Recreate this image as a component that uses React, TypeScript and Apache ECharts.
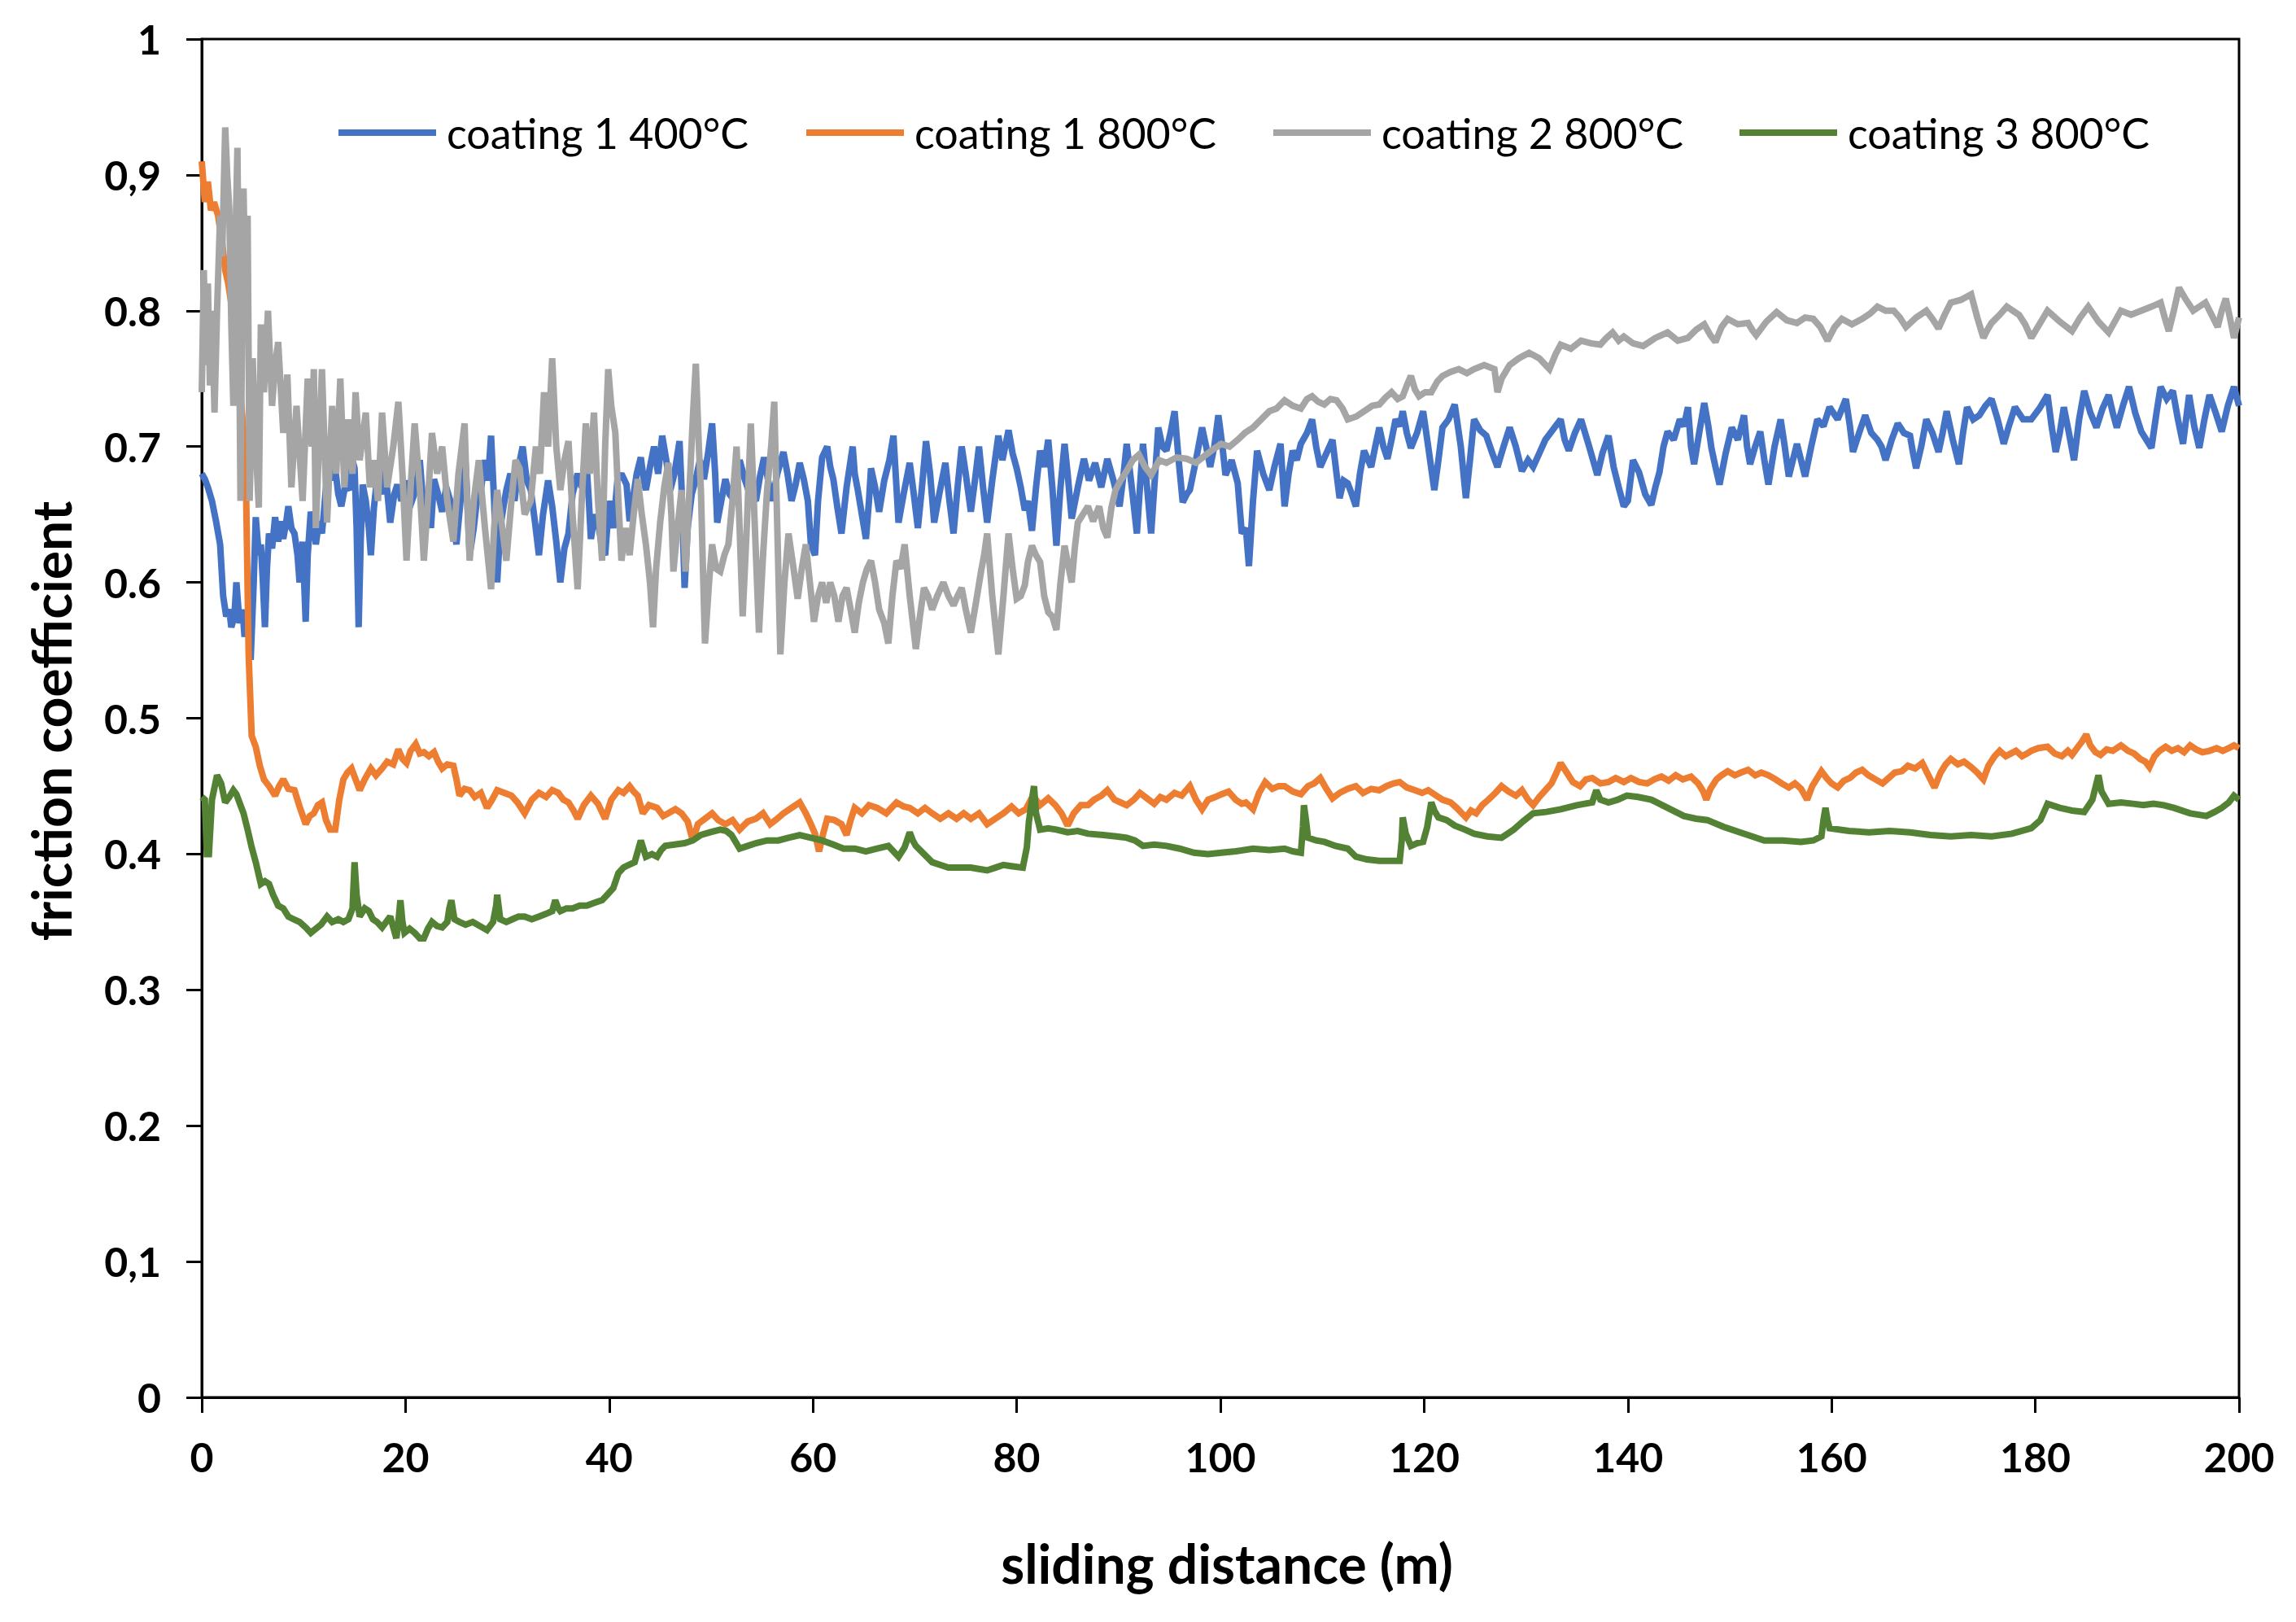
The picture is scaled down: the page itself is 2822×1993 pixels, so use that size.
import React, { useEffect, useRef } from "react";
import * as echarts from "echarts";

const seriesNames = ["coating 1 400°C", "coating 1 800°C", "coating 2 800°C", "coating 3 800°C"];
const seriesColors = ["#4472C4", "#ED7D31", "#A5A5A5", "#548235"];
const xTicks = [0, 20, 40, 60, 80, 100, 120, 140, 160, 180, 200];
const yTickLabels = ["0", "0,1", "0.2", "0.3", "0.4", "0.5", "0.6", "0.7", "0.8", "0,9", "1"];
const legendLeft = [416, 991, 1565, 2138];

// [sliding distance (m), friction coefficient]
const coating1_400 = [[0,0.68],[0.3,0.676],[0.6,0.67],[1,0.66],[1.4,0.645],[1.8,0.628],[2.1,0.59],[2.4,0.575],[2.7,0.58],[2.9,0.567],[3.2,0.575],[3.4,0.60],[3.7,0.57],[4,0.58],[4.2,0.56],[4.5,0.575],[4.8,0.543],[5.1,0.6],[5.3,0.648],[5.6,0.62],[5.8,0.628],[6,0.6],[6.2,0.567],[6.4,0.61],[6.6,0.636],[6.9,0.625],[7.2,0.648],[7.5,0.63],[7.8,0.645],[8,0.632],[8.3,0.645],[8.5,0.656],[8.8,0.64],[9.1,0.636],[9.4,0.62],[9.6,0.60],[9.9,0.63],[10.2,0.571],[10.4,0.62],[10.7,0.652],[11,0.64],[11.2,0.628],[11.5,0.645],[11.8,0.636],[12.2,0.67],[12.6,0.692],[12.9,0.675],[13.1,0.684],[13.4,0.665],[13.7,0.656],[14.1,0.672],[14.5,0.668],[14.8,0.69],[15,0.684],[15.2,0.64],[15.4,0.567],[15.6,0.63],[15.8,0.672],[16.1,0.66],[16.4,0.64],[16.6,0.62],[16.9,0.655],[17.2,0.676],[17.6,0.665],[18,0.684],[18.3,0.66],[18.5,0.644],[18.9,0.665],[19.2,0.672],[19.6,0.66],[20,0.675],[20.4,0.655],[21,0.668],[21.4,0.69],[21.8,0.652],[22.2,0.66],[22.5,0.64],[22.8,0.676],[23.2,0.665],[23.6,0.652],[24,0.67],[24.4,0.66],[24.7,0.645],[25,0.628],[25.4,0.66],[25.8,0.70],[26,0.672],[26.3,0.62],[26.7,0.64],[27,0.66],[27.4,0.668],[27.8,0.69],[28.1,0.675],[28.4,0.708],[28.7,0.66],[29,0.60],[29.3,0.64],[29.6,0.655],[29.9,0.668],[30.3,0.68],[30.7,0.66],[31.1,0.685],[31.5,0.70],[31.9,0.675],[32.3,0.668],[32.7,0.645],[33.1,0.62],[33.5,0.65],[34,0.675],[34.4,0.656],[34.8,0.63],[35.2,0.60],[35.6,0.625],[36,0.636],[36.4,0.665],[36.9,0.68],[37.3,0.67],[37.7,0.696],[38,0.66],[38.2,0.632],[38.6,0.65],[39,0.64],[39.3,0.625],[39.6,0.62],[40,0.66],[40.4,0.64],[40.8,0.675],[41.2,0.68],[41.7,0.672],[42,0.645],[42.3,0.66],[42.7,0.68],[43.1,0.692],[43.4,0.675],[43.6,0.668],[44,0.685],[44.4,0.70],[44.8,0.68],[45.2,0.708],[45.6,0.69],[46,0.668],[46.4,0.68],[46.9,0.704],[47.1,0.67],[47.4,0.596],[47.7,0.64],[48.1,0.665],[48.5,0.676],[48.9,0.69],[49.3,0.676],[49.7,0.695],[50.1,0.717],[50.4,0.68],[50.6,0.644],[51,0.66],[51.4,0.676],[51.8,0.665],[52.3,0.66],[52.8,0.69],[53.3,0.676],[53.8,0.665],[54.4,0.66],[54.8,0.678],[55.2,0.692],[55.6,0.675],[56,0.66],[56.5,0.68],[57.1,0.696],[57.5,0.68],[57.9,0.66],[58.3,0.672],[58.7,0.688],[59.1,0.676],[59.5,0.66],[59.8,0.628],[60.2,0.62],[60.5,0.66],[60.9,0.692],[61.4,0.70],[61.7,0.685],[62,0.676],[62.4,0.655],[62.8,0.636],[63.3,0.67],[63.9,0.70],[64.1,0.68],[64.4,0.668],[64.8,0.65],[65.2,0.632],[65.5,0.66],[65.7,0.684],[66.1,0.67],[66.5,0.652],[67,0.675],[67.5,0.69],[67.9,0.708],[68.2,0.67],[68.4,0.644],[68.9,0.665],[69.5,0.688],[69.9,0.665],[70.3,0.64],[70.7,0.67],[71.1,0.704],[71.5,0.68],[71.9,0.644],[72.4,0.665],[73,0.688],[73.4,0.66],[73.8,0.636],[74.2,0.67],[74.6,0.70],[75,0.68],[75.5,0.652],[75.9,0.675],[76.3,0.70],[76.7,0.67],[77.1,0.644],[77.6,0.675],[78.2,0.708],[78.6,0.69],[79.2,0.712],[79.6,0.695],[80,0.684],[80.4,0.67],[80.8,0.653],[81.1,0.66],[81.5,0.638],[81.9,0.67],[82.3,0.697],[82.7,0.685],[83.1,0.705],[83.5,0.67],[83.9,0.627],[84.3,0.67],[84.7,0.702],[85,0.68],[85.4,0.647],[86,0.67],[86.6,0.691],[87.1,0.675],[87.7,0.688],[88.3,0.67],[88.9,0.691],[89.5,0.675],[90.1,0.656],[90.5,0.68],[90.8,0.702],[91.3,0.67],[91.8,0.636],[92.1,0.67],[92.4,0.702],[92.8,0.67],[93.2,0.636],[93.6,0.68],[93.9,0.714],[94.3,0.70],[94.7,0.697],[95.1,0.71],[95.5,0.726],[95.9,0.69],[96.3,0.659],[96.7,0.665],[97,0.668],[97.6,0.69],[98.2,0.714],[98.6,0.70],[99,0.685],[99.4,0.70],[99.8,0.723],[100.2,0.70],[100.5,0.679],[101.1,0.69],[101.7,0.673],[102.1,0.636],[102.5,0.64],[102.8,0.612],[103.2,0.66],[103.6,0.697],[104.2,0.68],[104.8,0.668],[105.3,0.685],[105.9,0.702],[106.3,0.656],[106.7,0.68],[107.1,0.697],[107.5,0.69],[107.9,0.702],[108.5,0.71],[109,0.72],[109.4,0.70],[109.8,0.685],[110.4,0.695],[111,0.705],[111.4,0.68],[111.7,0.662],[112.1,0.675],[112.5,0.673],[112.9,0.665],[113.3,0.656],[113.7,0.68],[114.1,0.697],[114.5,0.69],[114.8,0.685],[115.2,0.70],[115.6,0.714],[116,0.70],[116.4,0.691],[116.8,0.705],[117.2,0.72],[117.6,0.715],[117.9,0.726],[118.3,0.71],[118.7,0.699],[119.3,0.71],[119.9,0.726],[120.4,0.70],[121,0.668],[121.4,0.69],[121.8,0.714],[122.4,0.72],[123,0.731],[123.6,0.70],[124.1,0.662],[124.5,0.69],[124.9,0.72],[125.5,0.712],[126.1,0.708],[126.7,0.695],[127.2,0.685],[127.8,0.70],[128.4,0.714],[129,0.70],[129.6,0.682],[130.2,0.69],[130.7,0.685],[131.3,0.695],[131.9,0.705],[132.6,0.712],[133.4,0.72],[133.8,0.705],[134.2,0.697],[134.8,0.71],[135.4,0.72],[136.2,0.70],[137,0.679],[137.5,0.695],[138.1,0.708],[138.6,0.685],[139.1,0.67],[139.6,0.656],[140,0.66],[140.5,0.69],[141.1,0.681],[141.7,0.665],[142.3,0.657],[142.7,0.67],[143.1,0.681],[143.5,0.70],[143.9,0.711],[144.5,0.705],[145.1,0.72],[145.5,0.715],[145.9,0.729],[146.2,0.70],[146.5,0.687],[147,0.71],[147.5,0.732],[147.9,0.715],[148.2,0.699],[148.6,0.685],[149,0.672],[149.6,0.695],[150.2,0.714],[150.8,0.705],[151.4,0.723],[151.7,0.70],[152,0.687],[152.5,0.70],[153,0.711],[153.4,0.69],[153.8,0.672],[154.4,0.70],[155,0.72],[155.4,0.70],[155.8,0.678],[156.2,0.69],[156.6,0.702],[157,0.69],[157.4,0.678],[158,0.70],[158.6,0.72],[159.2,0.715],[159.8,0.729],[160.6,0.72],[161.4,0.735],[161.8,0.715],[162.1,0.696],[162.7,0.71],[163.3,0.723],[163.9,0.71],[164.5,0.705],[164.9,0.70],[165.3,0.69],[165.9,0.705],[166.5,0.717],[167.1,0.71],[167.7,0.708],[168,0.695],[168.3,0.684],[168.8,0.70],[169.3,0.72],[169.9,0.71],[170.5,0.696],[170.9,0.71],[171.3,0.726],[171.9,0.705],[172.5,0.687],[172.9,0.71],[173.3,0.729],[173.9,0.72],[174.5,0.723],[175.1,0.73],[175.7,0.735],[176.3,0.72],[176.9,0.702],[177.4,0.715],[178,0.729],[178.8,0.72],[179.6,0.72],[180.4,0.728],[181.2,0.738],[181.6,0.715],[182,0.696],[182.4,0.71],[182.8,0.729],[183.3,0.71],[183.8,0.69],[184.3,0.72],[184.8,0.741],[185.4,0.725],[186,0.714],[186.6,0.728],[187.2,0.738],[187.6,0.725],[188,0.714],[188.6,0.73],[189.2,0.744],[189.8,0.725],[190.4,0.711],[190.9,0.705],[191.4,0.699],[191.9,0.725],[192.3,0.744],[192.9,0.735],[193.5,0.741],[194,0.72],[194.5,0.702],[194.8,0.72],[195.1,0.738],[195.6,0.715],[196.1,0.699],[196.6,0.72],[197.1,0.738],[197.7,0.725],[198.3,0.711],[198.9,0.73],[199.5,0.744],[200,0.73]];

const coating1_800 = [[0,0.91],[0.3,0.88],[0.6,0.895],[0.9,0.874],[1.2,0.88],[1.6,0.87],[2,0.85],[2.3,0.83],[2.6,0.82],[3,0.80],[3.4,0.78],[3.8,0.74],[4.1,0.71],[4.35,0.668],[4.6,0.547],[4.9,0.487],[5.3,0.479],[5.7,0.465],[6.1,0.455],[6.6,0.45],[7.2,0.443],[7.6,0.45],[8,0.455],[8.5,0.448],[9.1,0.447],[9.6,0.435],[10.2,0.422],[10.6,0.428],[11,0.43],[11.4,0.436],[11.8,0.438],[12.2,0.425],[12.6,0.418],[13.1,0.418],[13.5,0.44],[13.9,0.455],[14.3,0.46],[14.7,0.463],[15.1,0.455],[15.5,0.447],[16,0.455],[16.6,0.463],[17.1,0.458],[17.7,0.463],[18.2,0.468],[18.8,0.466],[19.3,0.477],[19.7,0.47],[20.1,0.467],[20.5,0.476],[21,0.481],[21.4,0.474],[21.8,0.475],[22.3,0.472],[22.8,0.475],[23.2,0.468],[23.6,0.463],[24.1,0.466],[24.7,0.465],[25,0.455],[25.3,0.443],[25.8,0.448],[26.3,0.447],[26.8,0.442],[27.4,0.445],[28,0.434],[28.5,0.44],[29,0.447],[29.7,0.445],[30.4,0.443],[31,0.438],[31.7,0.43],[32.4,0.44],[33.1,0.445],[33.8,0.442],[34.4,0.447],[35,0.445],[35.5,0.44],[36,0.438],[36.5,0.432],[36.9,0.426],[37.5,0.436],[38.2,0.443],[38.9,0.437],[39.6,0.426],[40.2,0.44],[40.9,0.447],[41.4,0.445],[42,0.45],[42.4,0.446],[42.8,0.443],[43.3,0.43],[43.9,0.436],[44.7,0.434],[45.3,0.428],[45.8,0.43],[46.5,0.433],[47.1,0.43],[47.7,0.424],[48.2,0.41],[48.7,0.422],[49.4,0.426],[50.1,0.43],[50.7,0.425],[51.4,0.422],[52.1,0.425],[52.8,0.418],[53.6,0.424],[54.4,0.426],[55.1,0.43],[55.8,0.422],[56.5,0.426],[57.1,0.43],[57.9,0.434],[58.7,0.438],[59.3,0.43],[59.8,0.422],[60.2,0.415],[60.6,0.402],[61,0.415],[61.4,0.426],[62.1,0.425],[62.8,0.422],[63.3,0.414],[63.7,0.425],[64.1,0.434],[64.8,0.43],[65.5,0.436],[66.3,0.434],[67.2,0.43],[68.2,0.438],[68.9,0.435],[69.5,0.434],[70.3,0.43],[71,0.434],[71.7,0.43],[72.5,0.426],[73.3,0.43],[74.1,0.426],[74.8,0.43],[75.5,0.426],[76.3,0.43],[77.1,0.422],[77.9,0.426],[78.7,0.43],[79.5,0.435],[80.2,0.43],[80.9,0.433],[81.6,0.443],[82.3,0.436],[83.1,0.441],[83.8,0.436],[84.4,0.43],[85,0.421],[85.6,0.43],[86.3,0.436],[87,0.436],[87.6,0.44],[88.3,0.443],[88.9,0.447],[89.6,0.44],[90.2,0.438],[90.8,0.436],[91.5,0.44],[92.1,0.445],[92.8,0.441],[93.5,0.437],[94.1,0.442],[94.7,0.44],[95.5,0.445],[96.2,0.443],[97,0.45],[97.6,0.44],[98.2,0.433],[98.8,0.44],[99.5,0.442],[100.1,0.444],[100.8,0.446],[101.5,0.44],[102.1,0.437],[102.5,0.438],[103.2,0.433],[103.8,0.445],[104.4,0.453],[105.1,0.448],[105.7,0.45],[106.3,0.45],[107.1,0.446],[107.9,0.444],[108.6,0.45],[109.2,0.452],[109.8,0.456],[110.4,0.448],[111,0.441],[111.7,0.445],[112.5,0.448],[113.3,0.45],[114,0.445],[114.8,0.448],[115.6,0.447],[116.3,0.45],[117,0.452],[117.6,0.453],[118.3,0.449],[119.1,0.447],[119.8,0.445],[120.4,0.447],[121,0.444],[121.8,0.44],[122.6,0.438],[123.2,0.434],[123.7,0.43],[124.1,0.427],[124.6,0.432],[125.1,0.43],[125.7,0.436],[126.3,0.44],[127,0.445],[127.6,0.45],[128.3,0.446],[129,0.443],[129.6,0.447],[130.2,0.44],[130.7,0.436],[131.3,0.442],[131.9,0.447],[132.5,0.452],[133,0.46],[133.4,0.467],[134,0.46],[134.6,0.453],[135.3,0.45],[135.9,0.455],[136.5,0.456],[137.3,0.452],[138.1,0.453],[138.8,0.456],[139.6,0.453],[140.3,0.456],[141.1,0.453],[141.9,0.452],[142.6,0.455],[143.3,0.457],[144,0.454],[144.7,0.458],[145.4,0.455],[146.2,0.457],[146.9,0.452],[147.4,0.446],[147.7,0.44],[148.1,0.448],[148.7,0.455],[149.2,0.458],[149.8,0.461],[150.5,0.458],[151.1,0.46],[151.8,0.462],[152.5,0.458],[153.1,0.46],[153.8,0.458],[154.5,0.455],[155.1,0.452],[155.8,0.449],[156.4,0.452],[157,0.448],[157.6,0.44],[158.1,0.45],[158.6,0.456],[159,0.461],[159.5,0.456],[160,0.452],[160.6,0.449],[161.2,0.454],[161.8,0.456],[162.4,0.46],[163,0.462],[163.6,0.458],[164.3,0.455],[165,0.452],[165.6,0.456],[166.2,0.46],[166.9,0.461],[167.5,0.465],[168.2,0.463],[168.9,0.467],[169.5,0.458],[170.1,0.449],[170.7,0.46],[171.2,0.466],[171.7,0.47],[172.4,0.466],[173,0.468],[173.7,0.464],[174.3,0.46],[174.9,0.455],[175.4,0.465],[176,0.472],[176.5,0.476],[177.1,0.472],[177.6,0.474],[178.1,0.476],[178.7,0.472],[179.2,0.474],[179.6,0.476],[180.3,0.478],[181.2,0.479],[181.9,0.474],[182.6,0.472],[183.2,0.476],[183.6,0.473],[184.1,0.478],[184.6,0.483],[185,0.488],[185.4,0.48],[185.9,0.475],[186.4,0.473],[187,0.477],[187.6,0.476],[188.4,0.48],[189.1,0.476],[189.7,0.474],[190.3,0.47],[190.8,0.468],[191.2,0.464],[191.7,0.472],[192.2,0.476],[192.8,0.479],[193.4,0.476],[194,0.478],[194.6,0.475],[195.2,0.48],[195.8,0.477],[196.4,0.475],[197.1,0.476],[197.8,0.478],[198.4,0.476],[199,0.478],[199.5,0.48],[200,0.478]];

const coating2_800 = [[0,0.74],[0.2,0.83],[0.4,0.76],[0.6,0.82],[0.8,0.745],[1,0.80],[1.25,0.725],[1.5,0.80],[1.8,0.87],[2,0.84],[2.3,0.935],[2.5,0.90],[2.7,0.875],[2.9,0.79],[3.1,0.73],[3.3,0.85],[3.5,0.92],[3.65,0.80],[3.8,0.66],[4,0.82],[4.1,0.89],[4.3,0.80],[4.5,0.87],[4.7,0.66],[5,0.765],[5.3,0.70],[5.6,0.655],[5.8,0.79],[6.1,0.74],[6.5,0.80],[6.9,0.73],[7.2,0.76],[7.5,0.777],[8,0.71],[8.4,0.753],[8.8,0.67],[9.3,0.73],[9.9,0.66],[10.4,0.75],[10.8,0.70],[11,0.757],[11.2,0.64],[11.5,0.70],[11.8,0.757],[12.3,0.644],[12.8,0.73],[13.2,0.68],[13.6,0.75],[14,0.67],[14.4,0.72],[14.8,0.68],[15.1,0.74],[15.5,0.69],[16.1,0.725],[16.5,0.67],[16.9,0.69],[17.3,0.66],[17.7,0.725],[18.2,0.67],[18.8,0.70],[19.3,0.733],[19.7,0.68],[20.1,0.616],[20.5,0.67],[20.9,0.717],[21.4,0.67],[21.8,0.616],[22.2,0.66],[22.6,0.71],[23.1,0.68],[23.6,0.70],[24.1,0.66],[24.7,0.63],[25.2,0.68],[25.8,0.717],[26,0.67],[26.3,0.616],[26.7,0.66],[27.2,0.69],[27.8,0.64],[28.4,0.595],[28.7,0.64],[29,0.668],[29.5,0.64],[29.9,0.616],[30.4,0.66],[30.8,0.69],[31.2,0.684],[31.7,0.65],[32.3,0.66],[32.8,0.70],[33.2,0.68],[33.6,0.74],[34,0.70],[34.4,0.765],[34.8,0.70],[35.2,0.668],[35.6,0.69],[36,0.704],[36.4,0.65],[36.9,0.595],[37.3,0.66],[37.7,0.717],[38.1,0.68],[38.5,0.725],[38.9,0.66],[39.3,0.616],[39.6,0.70],[39.9,0.757],[40.2,0.73],[40.6,0.71],[40.9,0.66],[41.2,0.616],[41.6,0.64],[42,0.62],[42.4,0.65],[42.8,0.676],[43.2,0.65],[43.6,0.628],[44,0.60],[44.3,0.567],[44.6,0.61],[45,0.644],[45.4,0.67],[45.8,0.688],[46.1,0.65],[46.3,0.608],[46.7,0.64],[47.1,0.668],[47.5,0.608],[47.9,0.672],[48.2,0.72],[48.5,0.761],[48.8,0.70],[49,0.668],[49.2,0.61],[49.4,0.555],[49.8,0.60],[50.1,0.628],[50.5,0.61],[50.9,0.608],[51.3,0.62],[51.7,0.628],[52.1,0.66],[52.5,0.70],[52.8,0.64],[53.1,0.575],[53.5,0.64],[53.9,0.717],[54.3,0.64],[54.7,0.563],[55.1,0.62],[55.5,0.668],[55.9,0.70],[56.2,0.733],[56.5,0.64],[56.8,0.547],[57.2,0.60],[57.6,0.636],[58.1,0.61],[58.5,0.588],[58.9,0.61],[59.3,0.628],[59.7,0.60],[60.1,0.571],[60.5,0.59],[60.9,0.60],[61.3,0.585],[61.7,0.60],[62.1,0.59],[62.5,0.571],[62.9,0.59],[63.3,0.596],[63.7,0.58],[64.1,0.563],[64.5,0.585],[64.9,0.60],[65.3,0.61],[65.7,0.616],[66.1,0.60],[66.5,0.58],[67,0.57],[67.4,0.555],[67.8,0.59],[68.2,0.616],[68.6,0.61],[69,0.628],[69.5,0.59],[70.1,0.551],[70.5,0.575],[70.9,0.596],[71.3,0.59],[71.7,0.58],[72.2,0.59],[72.8,0.60],[73.3,0.59],[73.8,0.583],[74.2,0.59],[74.6,0.596],[75,0.58],[75.5,0.563],[76,0.585],[76.5,0.608],[76.8,0.62],[77.1,0.636],[77.6,0.59],[78.2,0.547],[78.7,0.59],[79.2,0.636],[79.6,0.61],[80,0.588],[80.4,0.59],[80.8,0.598],[81.1,0.615],[81.5,0.627],[81.9,0.62],[82.3,0.615],[82.7,0.59],[83.1,0.578],[83.5,0.575],[83.9,0.565],[84.3,0.60],[84.7,0.627],[85,0.615],[85.4,0.60],[85.7,0.625],[86,0.644],[86.5,0.65],[87,0.656],[87.5,0.645],[88.1,0.656],[88.5,0.64],[88.9,0.633],[89.3,0.655],[89.7,0.668],[90.2,0.675],[90.8,0.682],[91.4,0.69],[92,0.694],[92.6,0.685],[93.2,0.679],[94,0.69],[94.7,0.688],[95.7,0.692],[96.7,0.691],[97.6,0.688],[98.6,0.694],[99.3,0.698],[100.1,0.702],[100.9,0.70],[101.7,0.705],[102.4,0.71],[103.2,0.714],[104,0.72],[104.8,0.726],[105.5,0.728],[106.3,0.734],[107.1,0.73],[107.9,0.728],[108.5,0.735],[109,0.737],[109.6,0.733],[110.2,0.731],[110.8,0.735],[111.4,0.734],[112,0.728],[112.5,0.72],[113.3,0.722],[114.1,0.726],[114.9,0.73],[115.6,0.731],[116.2,0.736],[116.8,0.74],[117.4,0.735],[117.9,0.737],[118.3,0.745],[118.7,0.752],[119.1,0.742],[119.5,0.737],[120.1,0.74],[120.7,0.74],[121.3,0.748],[121.8,0.752],[122.6,0.755],[123.4,0.757],[124.2,0.754],[124.9,0.757],[125.9,0.76],[126.9,0.757],[127.2,0.74],[127.6,0.75],[128.4,0.76],[129.3,0.765],[130.3,0.769],[131.3,0.765],[132.3,0.757],[132.9,0.768],[133.4,0.775],[134.4,0.772],[135.4,0.778],[136.4,0.776],[137.3,0.775],[137.9,0.78],[138.5,0.784],[139.1,0.778],[139.6,0.781],[140.5,0.776],[141.5,0.774],[142.7,0.78],[143.9,0.784],[144.9,0.778],[145.9,0.78],[146.7,0.786],[147.5,0.79],[148.1,0.782],[148.6,0.777],[149.2,0.788],[149.8,0.794],[150.8,0.79],[151.8,0.791],[152.2,0.786],[152.6,0.782],[153.6,0.792],[154.6,0.799],[155.6,0.793],[156.6,0.791],[157.4,0.795],[158.2,0.794],[158.9,0.788],[159.6,0.778],[160.3,0.788],[161,0.794],[162,0.79],[163,0.794],[163.8,0.798],[164.5,0.803],[165.3,0.8],[166.1,0.80],[166.7,0.795],[167.3,0.788],[168.3,0.795],[169.3,0.80],[169.9,0.794],[170.5,0.787],[171.1,0.797],[171.7,0.806],[172.7,0.808],[173.7,0.812],[174.3,0.795],[174.9,0.78],[175.3,0.786],[175.7,0.791],[176.5,0.797],[177.2,0.803],[177.8,0.80],[178.4,0.797],[179,0.79],[179.6,0.78],[180.4,0.79],[181.2,0.80],[182.4,0.792],[183.6,0.785],[184.4,0.795],[185.2,0.803],[186.2,0.792],[187.2,0.784],[187.8,0.792],[188.4,0.80],[189.4,0.797],[190.4,0.80],[191.4,0.803],[192.3,0.806],[192.7,0.795],[193.1,0.785],[193.6,0.80],[194.1,0.817],[194.8,0.808],[195.5,0.80],[196.1,0.803],[196.7,0.806],[197.3,0.797],[197.9,0.788],[198.3,0.80],[198.7,0.809],[199.1,0.795],[199.5,0.78],[200,0.795]];

const coating3_800 = [[0,0.442],[0.3,0.44],[0.5,0.40],[0.7,0.40],[1,0.44],[1.5,0.458],[1.9,0.452],[2.3,0.438],[2.7,0.442],[3.1,0.447],[3.4,0.444],[3.7,0.438],[4.1,0.43],[4.5,0.418],[4.9,0.405],[5.3,0.394],[5.8,0.378],[6.2,0.38],[6.6,0.378],[7,0.37],[7.5,0.362],[8,0.36],[8.5,0.354],[9,0.352],[9.6,0.35],[10.2,0.346],[10.7,0.342],[11.2,0.345],[11.7,0.348],[12.3,0.354],[12.8,0.35],[13.4,0.352],[13.9,0.35],[14.4,0.352],[14.8,0.36],[15,0.394],[15.2,0.37],[15.5,0.354],[16,0.36],[16.4,0.358],[16.8,0.352],[17.2,0.35],[17.7,0.346],[18.1,0.35],[18.5,0.354],[18.8,0.346],[19.1,0.338],[19.3,0.35],[19.5,0.366],[19.7,0.35],[19.9,0.342],[20.4,0.345],[20.9,0.342],[21.4,0.338],[21.8,0.338],[22.2,0.345],[22.6,0.35],[23.1,0.347],[23.6,0.346],[24.1,0.35],[24.3,0.36],[24.5,0.366],[24.8,0.352],[25.3,0.35],[25.9,0.348],[26.6,0.35],[27.3,0.347],[28,0.344],[28.6,0.35],[28.9,0.362],[29,0.37],[29.3,0.352],[29.9,0.35],[30.5,0.352],[31.1,0.354],[31.7,0.354],[32.4,0.352],[33.1,0.354],[33.8,0.356],[34.4,0.358],[34.7,0.366],[35,0.36],[35.2,0.358],[35.8,0.36],[36.4,0.36],[37.1,0.362],[37.8,0.362],[38.5,0.364],[39.3,0.366],[39.8,0.37],[40.4,0.375],[40.9,0.386],[41.4,0.39],[41.9,0.392],[42.5,0.394],[43.1,0.41],[43.6,0.398],[44.2,0.40],[44.7,0.398],[45.1,0.403],[45.5,0.406],[46.4,0.407],[47.4,0.408],[48.2,0.41],[49,0.414],[49.9,0.416],[50.9,0.418],[51.5,0.417],[52,0.414],[52.8,0.404],[53.6,0.406],[54.4,0.408],[55.5,0.41],[56.6,0.41],[57.6,0.412],[58.7,0.414],[59.8,0.412],[60.9,0.41],[62,0.407],[63,0.404],[64.1,0.404],[65.2,0.402],[66.3,0.404],[67.4,0.406],[67.9,0.402],[68.4,0.398],[69,0.405],[69.5,0.416],[69.8,0.41],[70.1,0.406],[70.9,0.40],[71.7,0.394],[72.5,0.392],[73.3,0.39],[74.4,0.39],[75.5,0.39],[76.3,0.389],[77.1,0.388],[77.9,0.39],[78.7,0.392],[79.6,0.391],[80.6,0.39],[81,0.405],[81.2,0.424],[81.5,0.44],[81.7,0.45],[81.9,0.43],[82.3,0.418],[83.1,0.419],[83.9,0.418],[85,0.416],[86,0.417],[87,0.415],[88.5,0.414],[89.8,0.413],[90.8,0.412],[91.6,0.41],[92.4,0.406],[93.5,0.407],[94.7,0.406],[96,0.404],[97.4,0.401],[98.8,0.40],[100.1,0.401],[101.5,0.402],[103.2,0.404],[104.8,0.403],[106.3,0.404],[107.1,0.402],[107.9,0.401],[108.1,0.42],[108.2,0.436],[108.4,0.425],[108.6,0.412],[109.4,0.41],[110.2,0.409],[111.3,0.406],[112.5,0.404],[113.3,0.398],[114.4,0.396],[115.6,0.395],[116.6,0.395],[117.6,0.395],[117.8,0.41],[117.9,0.427],[118.2,0.415],[118.7,0.406],[119.3,0.408],[119.9,0.409],[120.3,0.42],[120.7,0.438],[121,0.432],[121.4,0.427],[122.2,0.425],[123,0.421],[124,0.418],[124.9,0.415],[126.2,0.413],[127.6,0.412],[128.2,0.415],[128.8,0.418],[129.7,0.424],[130.7,0.43],[132,0.431],[133.4,0.433],[135,0.436],[136.5,0.438],[136.9,0.447],[137.3,0.44],[138.1,0.438],[139,0.44],[139.9,0.443],[141,0.442],[142.3,0.44],[143.9,0.434],[145.5,0.428],[146.7,0.426],[147.8,0.425],[149.4,0.42],[151,0.416],[152.2,0.413],[153.4,0.41],[155.2,0.41],[157,0.409],[158.2,0.41],[159,0.413],[159.2,0.425],[159.4,0.434],[159.6,0.425],[159.8,0.419],[161.7,0.417],[163.7,0.416],[165.7,0.417],[167.7,0.416],[169.7,0.414],[171.7,0.413],[173.7,0.414],[175.7,0.413],[177.7,0.415],[179.6,0.419],[180.5,0.425],[181.2,0.437],[182.4,0.434],[183.6,0.432],[184.8,0.431],[185.6,0.44],[186,0.452],[186.2,0.458],[186.5,0.446],[187.2,0.437],[188.4,0.438],[189.6,0.437],[190.6,0.436],[191.6,0.437],[192.6,0.436],[193.6,0.434],[195.2,0.43],[196.8,0.428],[197.6,0.431],[198.3,0.434],[199,0.438],[199.5,0.443],[200,0.44]];

const seriesData = [coating1_400, coating1_800, coating2_800, coating3_800];

const FONT = "Lato";

export default function App() {
  const ref = useRef<HTMLDivElement>(null);

  useEffect(() => {
    document.body.style.margin = "0";
    if (!ref.current) return;
    const chart = echarts.init(ref.current, undefined, { renderer: "svg" });
    const axisLineStyle = { color: "#000", width: 3 };
    const option = {
      animation: false,
      backgroundColor: "#fff",
      grid: {
        left: 248,
        right: 70,
        top: 48,
        bottom: 276,
        show: true,
        borderColor: "#000",
        borderWidth: 3,
        containLabel: false,
      },
      legend: seriesNames.map((name, i) => ({
        data: [name],
        left: legendLeft[i],
        top: 137,
        icon: "rect",
        itemWidth: 120,
        itemHeight: 8,
        padding: 0,
        textStyle: {
          fontFamily: FONT,
          fontSize: 52,
          color: "#000",
          padding: [0, 0, 0, 8],
        },
      })),
      xAxis: {
        type: "value",
        min: xTicks[0],
        max: xTicks[xTicks.length - 1],
        interval: xTicks[1] - xTicks[0],
        axisLine: { show: true, lineStyle: axisLineStyle },
        axisTick: { show: true, length: 19, lineStyle: axisLineStyle },
        splitLine: { show: false },
        axisLabel: {
          color: "#000",
          fontFamily: FONT,
          fontWeight: "bold",
          fontSize: 50,
          margin: 48,
        },
      },
      yAxis: {
        type: "value",
        min: 0,
        max: 1,
        interval: 0.1,
        axisLine: { show: true, lineStyle: axisLineStyle },
        axisTick: { show: true, length: 19, lineStyle: axisLineStyle },
        splitLine: { show: false },
        axisLabel: {
          color: "#000",
          fontFamily: FONT,
          fontWeight: "bold",
          fontSize: 50,
          margin: 50,
          formatter: (v: number) => yTickLabels[Math.round(v * 10)] ?? "",
        },
      },
      graphic: [
        {
          type: "text",
          x: 1508,
          y: 1920,
          style: {
            text: "sliding distance (m)",
            fontFamily: FONT,
            fontWeight: "bold",
            fontSize: 66,
            fill: "#000",
            textAlign: "center",
            textVerticalAlign: "middle",
          },
        },
        {
          type: "text",
          x: 62,
          y: 886,
          rotation: Math.PI / 2,
          style: {
            text: "friction coefficient",
            fontFamily: FONT,
            fontWeight: "bold",
            fontSize: 66,
            fill: "#000",
            textAlign: "center",
            textVerticalAlign: "middle",
          },
        },
      ],
      series: seriesNames.map((name, i) => ({
        name,
        type: "line",
        data: seriesData[i],
        showSymbol: false,
        symbol: "none",
        color: seriesColors[i],
        lineStyle: { color: seriesColors[i], width: 8, join: "miter", miterLimit: 2 },
        itemStyle: { color: seriesColors[i] },
        emphasis: { disabled: true },
        z: 2 + i,
      })),
    };
    chart.setOption(option);
    return () => chart.dispose();
  }, []);

  return <div ref={ref} style={{ width: 2822, height: 1993 }} />;
}
